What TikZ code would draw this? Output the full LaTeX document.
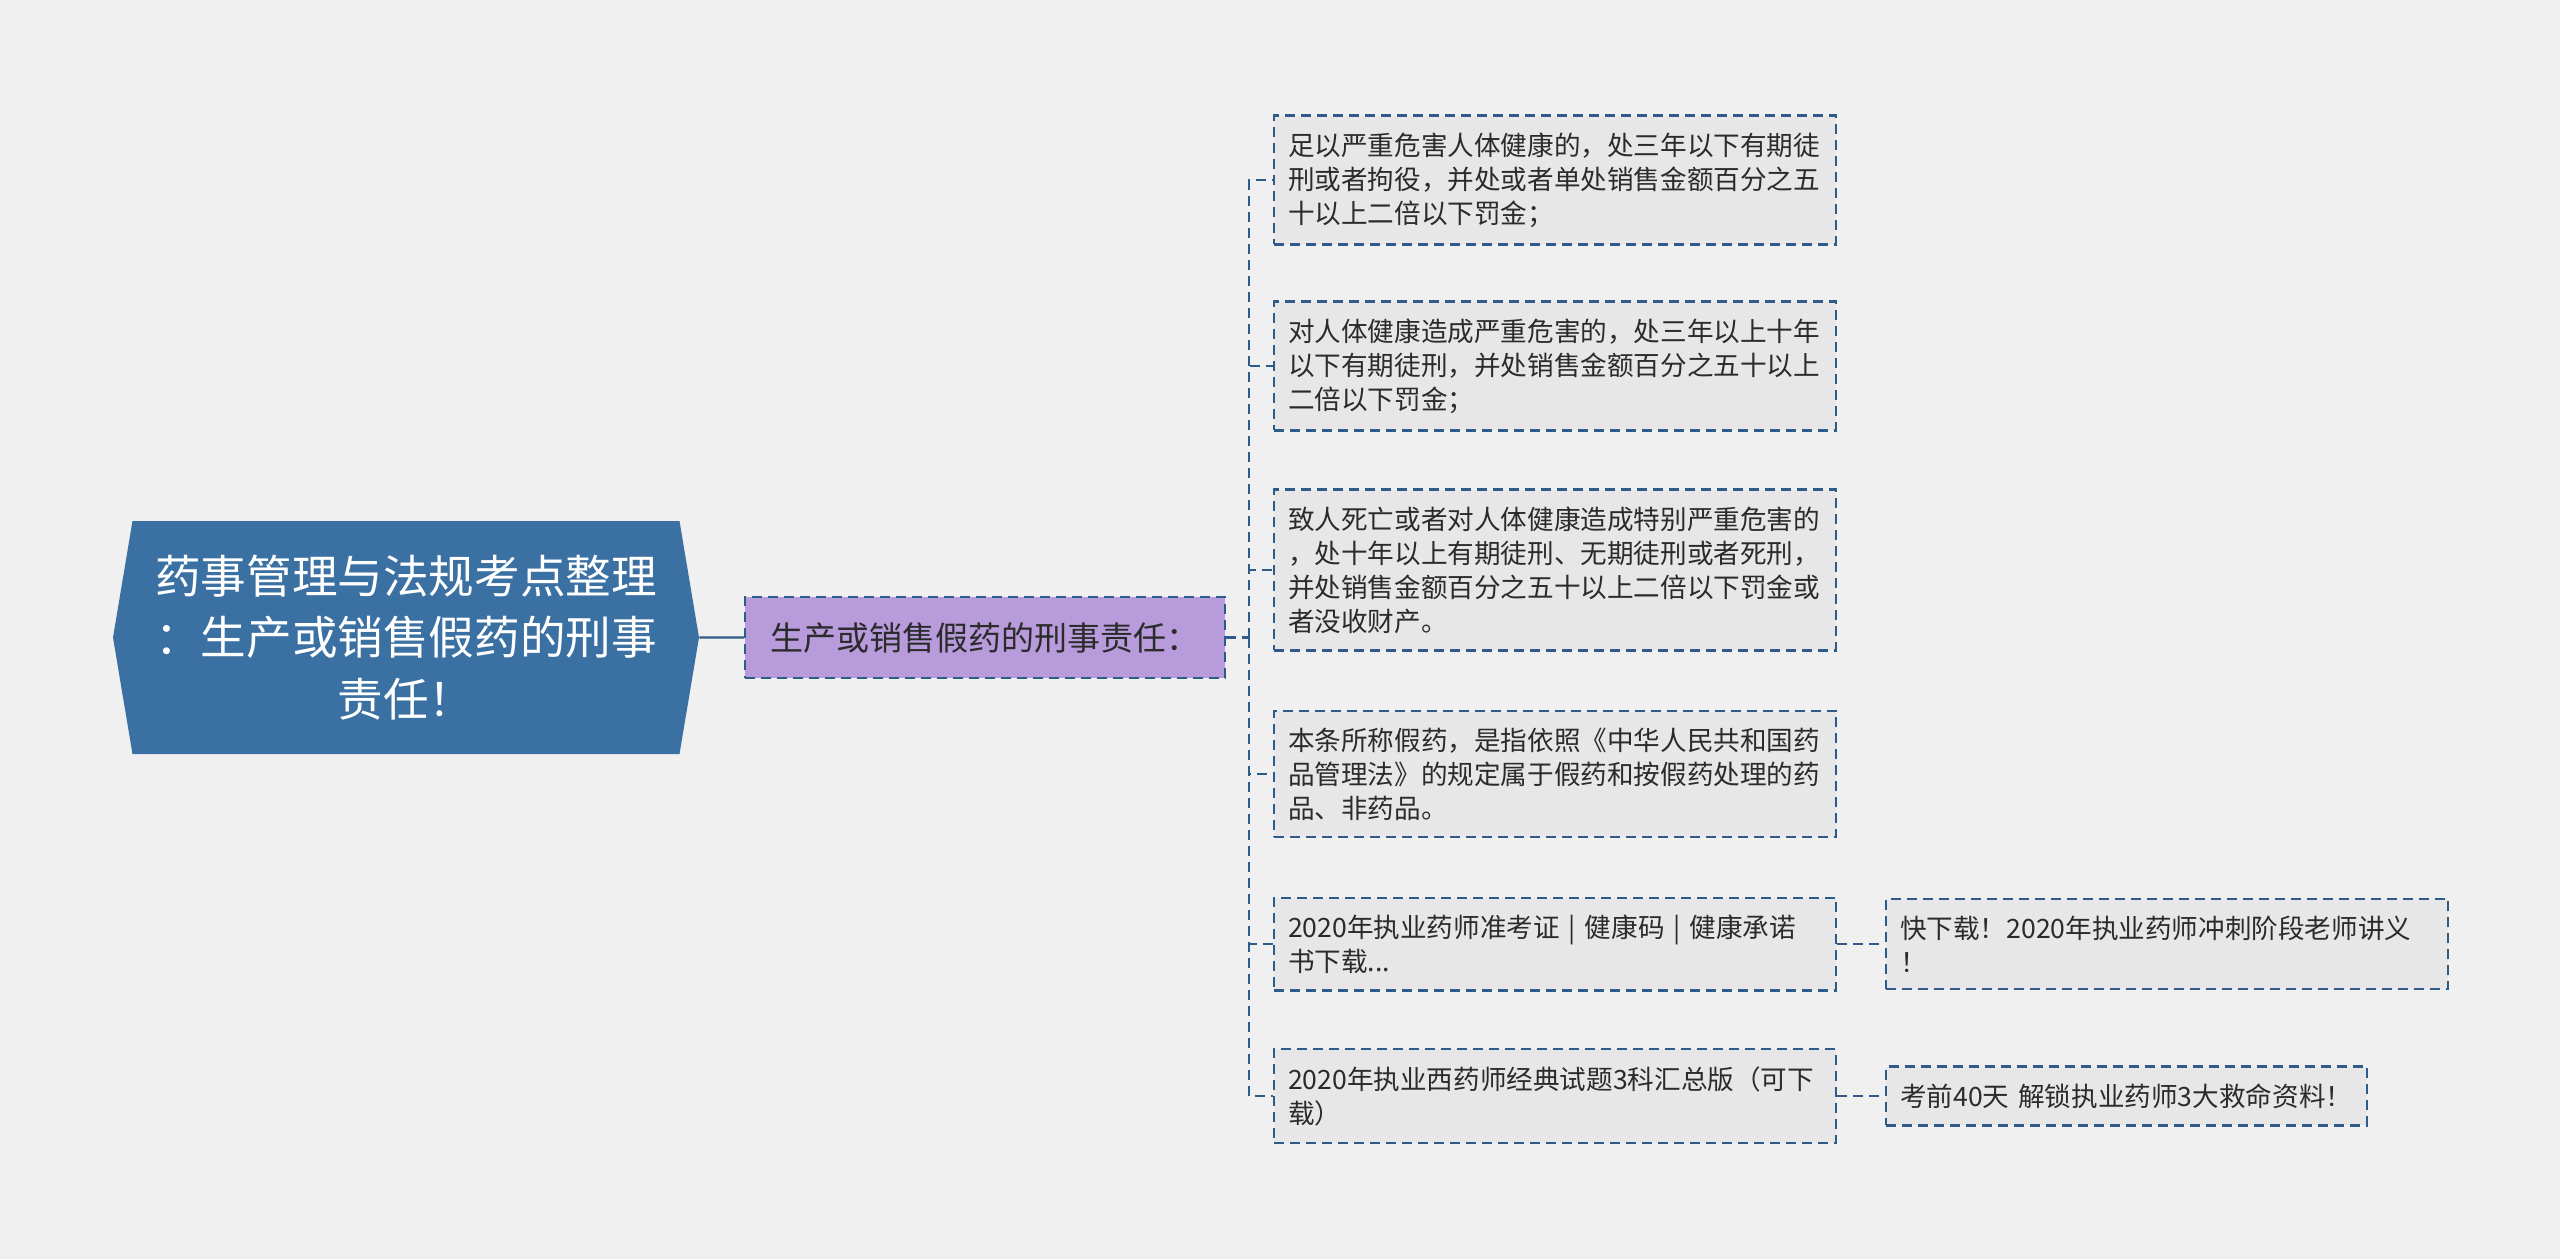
\documentclass[tikz,border=0pt]{standalone}
\usepackage{fontspec}
\setmainfont{Noto Sans CJK SC}
\usetikzlibrary{shapes.symbols}
\definecolor{bgc}{HTML}{F0F0F0}
\definecolor{rootc}{HTML}{3B70A3}
\definecolor{mainc}{HTML}{B79BDA}
\definecolor{leafc}{HTML}{E7E7E7}
\definecolor{linec}{HTML}{2E5C88}
\definecolor{textc}{HTML}{2B2B2B}

\begin{document}
\begin{tikzpicture}[x=0.5pt,y=-0.5pt,
	  link/.style={draw=linec,line width=1.1pt,dash pattern=on 5pt off 3pt},
	  leaf/.style={link,fill=leafc,text=textc,anchor=west,align=left,
	    inner xsep=7pt,inner ysep=8.5pt,text width=267pt,
	    font=\fontsize{13.3pt}{17pt}\selectfont}]
	  \fill[bgc](0, 0) rectangle (2560, 1259);
	  \node[shape=signal,signal to=west and east,signal pointer angle=161,
	    fill=rootc,text=white,minimum width=293pt,minimum height=116.5pt,
	    inner sep=0pt,align=center,font=\fontsize{22.8pt}{30.6pt}\selectfont]
	    (root) at (406, 637.5) {药事管理与法规考点整理\\：生产或销售假药的刑事\\责任！};
	  \node[link,fill=mainc,text=textc,anchor=west,minimum width=240pt,
	    minimum height=40.5pt,inner sep=0pt,font=\fontsize{16.5pt}{20pt}\selectfont]
	    (main) at (744, 637.5) {生产或销售假药的刑事责任：\hspace{6pt}};
	  \node[leaf](c1) at (1273, 180) {足以严重危害人体健康的，处三年以下有期徒\\刑或者拘役，并处或者单处销售金额百分之五\\十以上二倍以下罚金；};
	  \node[leaf](c2) at (1273, 366) {对人体健康造成严重危害的，处三年以上十年\\以下有期徒刑，并处销售金额百分之五十以上\\二倍以下罚金；};
	  \node[leaf](c3) at (1273, 570) {致人死亡或者对人体健康造成特别严重危害的\\，处十年以上有期徒刑、无期徒刑或者死刑，\\并处销售金额百分之五十以上二倍以下罚金或\\者没收财产。};
	  \node[leaf](c4) at (1273, 774) {本条所称假药，是指依照《中华人民共和国药\\品管理法》的规定属于假药和按假药处理的药\\品、非药品。};
	  \node[leaf](c5) at (1273, 944) {2020年执业药师准考证 | 健康码 | 健康承诺\\书下载...};
	  \node[leaf](c6) at (1273, 1096) {2020年执业西药师经典试题3科汇总版（可下\\载）};
	  \node[leaf](g5) at (1885, 944) {快下载！2020年执业药师冲刺阶段老师讲义\\！};
	  \node[leaf,text width=226.5pt](g6) at (1885, 1096) {考前40天 解锁执业药师3大救命资料！};
	  \coordinate (j) at (1249, 637.5);
	  \draw[draw=linec,line width=1.1pt](root) -- (main);
	  \draw[link](main) -- (j);
	  \foreach \n in {c1,c2,c3,c4,c5,c6}
	    \draw[link](j) |- (\n.west);
	  \draw[link](c5) -- (g5);
	  \draw[link](c6) -- (g6);
	\end{tikzpicture}
\end{document}
